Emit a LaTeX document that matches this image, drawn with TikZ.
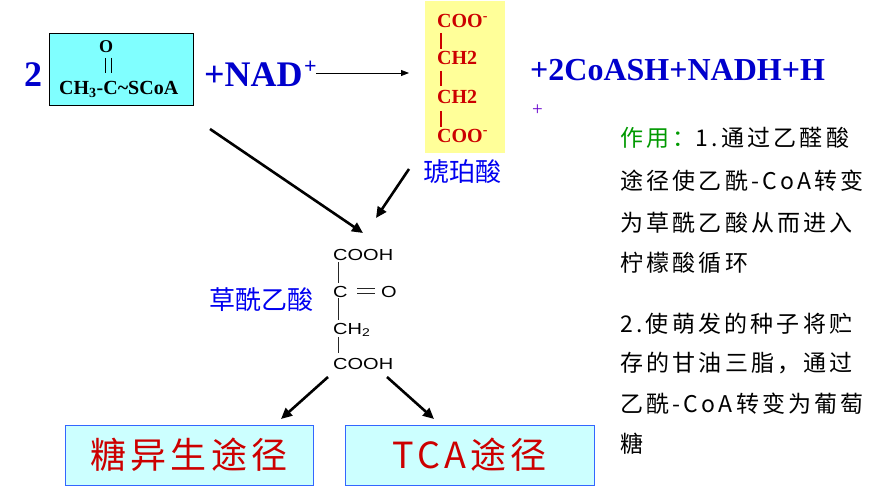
\documentclass[tikz,border=0pt]{standalone}
\usepackage{fontspec}
\setmainfont{Liberation Serif}
\newfontfamily\cjk{Noto Sans CJK SC}
\newfontfamily\cjkr{Noto Sans CJK SC}[LetterSpace=14]
\newfontfamily\cjkb{Noto Sans CJK SC}[LetterSpace=12]
\newfontfamily\hel{Liberation Sans}[FakeStretch=1.25]
\usetikzlibrary{arrows.meta}
\definecolor{tblue}{HTML}{0000CC}
\definecolor{cblue}{HTML}{0000F0}
\definecolor{tpurple}{HTML}{6600CC}
\definecolor{tred}{HTML}{CC0000}
\definecolor{tgreen}{HTML}{009900}
\definecolor{acyan}{HTML}{80FFFF}
\definecolor{lcyan}{HTML}{CCFFFF}
\definecolor{bblue}{HTML}{3366FF}
\definecolor{ayellow}{HTML}{FFFF99}
\begin{document}
\begin{tikzpicture}[x=1pt,y=-1pt,
  txt/.style={inner sep=0pt, anchor=base west},
  bigb/.style={txt, text=tblue, font=\fontsize{36}{36}\selectfont\bfseries},
  midb/.style={txt, text=tblue, font=\fontsize{32}{32}\selectfont\bfseries},
  acoatxt/.style={txt, font=\fontsize{20}{20}\selectfont\bfseries},
  succtxt/.style={txt, text=tred, font=\fontsize{20}{20}\selectfont\bfseries},
  bar/.style={draw=tred, line width=1.8pt},
  chem/.style={txt, font=\fontsize{16}{16}\hel},
  bond/.style={draw=black!85, line width=1pt},
  cname/.style={inner sep=0pt, text=cblue, font=\fontsize{26}{26}\cjk},
  note/.style={txt, font=\fontsize{23}{23}\cjkr},
  bigarrow/.style={line width=2.6pt, -{Triangle[length=11pt,width=10pt]}},
  thinarrow/.style={line width=0.8pt, -{Triangle[length=8pt,width=6pt]}},
  pathbox/.style={draw=bblue, line width=1pt, fill=lcyan, inner sep=0pt,
     minimum height=60pt, text=tred, font=\fontsize{36}{36}\cjkb}
]
\useasboundingbox (0,0) rectangle (878,487);

% acetyl-CoA
\node[bigb] (two) at (24,86) {2};
\node[draw, line width=1pt, fill=acyan, anchor=north west, inner sep=0pt,
      minimum width=144pt, minimum height=72pt] (acoa) at (49,33) {};
\node[acoatxt, anchor=base, font=\fontsize{18}{18}\selectfont\bfseries] (oxy) at (106,53) {O};
\coordinate (d1a) at (105.5,58); \coordinate (d1b) at (105.5,73);
\coordinate (d2a) at (111,58);   \coordinate (d2b) at (111,73);
\draw[line width=1pt] (d1a) -- (d1b) (d2a) -- (d2b);
\node[acoatxt] (form) at (59,94) {CH\textsubscript{3}-C\textasciitilde SCoA};

\node[bigb] (nad) at (204,86) {+NAD};
\node[txt, text=tblue, font=\fontsize{22}{22}\selectfont\bfseries] (nadp) at (304,74) {+};
\coordinate (a0s) at (316,73);
\coordinate (a0e) at (409,73);
\draw[thinarrow] (a0s) -- (a0e);

% succinate
\node[fill=ayellow, anchor=north west, inner sep=0pt,
      minimum width=80pt, minimum height=152pt] (succ) at (425,1) {};
\node[succtxt] (s1) at (437,28) {COO\textsuperscript{-}};
\node[succtxt] (s2) at (437,65) {CH2};
\node[succtxt] (s3) at (437,103) {CH2};
\node[succtxt] (s4) at (437,142) {COO\textsuperscript{-}};
\coordinate (b1a) at (441,33);  \coordinate (b1b) at (441,49);
\coordinate (b2a) at (441,71);  \coordinate (b2b) at (441,86);
\coordinate (b3a) at (441,111); \coordinate (b3b) at (441,127);
\draw[bar] (b1a) -- (b1b) (b2a) -- (b2b) (b3a) -- (b3b);
\node[cname] (succname) at (462,172) {琥珀酸};

\node[midb] (prod) at (530,81) {+2CoASH+NADH+H};
\node[txt, text=tpurple, font=\fontsize{19}{19}\selectfont] (hplus) at (532,115) {+};

% oxaloacetate
\node[cname] (oaaname) at (261,300) {草酰乙酸};
\node[chem] (c1) at (333,260) {COOH};
\node[chem] (c2) at (333,297) {C};
\node[chem] (c2o) at (381,297) {O};
\node[chem] (c3) at (333,334) {CH\textsubscript{2}};
\node[chem] (c4) at (333,369) {COOH};
\coordinate (e1a) at (357,288); \coordinate (e1b) at (375,288);
\coordinate (e2a) at (357,293); \coordinate (e2b) at (375,293);
\draw[bond] (e1a) -- (e1b) (e2a) -- (e2b);
\coordinate (v1a) at (338.5,262); \coordinate (v1b) at (338.5,283);
\coordinate (v2a) at (338.5,298); \coordinate (v2b) at (338.5,320);
\coordinate (v3a) at (338.5,337); \coordinate (v3b) at (338.5,353);
\draw[bond] (v1a) -- (v1b) (v2a) -- (v2b) (v3a) -- (v3b);

% big arrows
\coordinate (p1s) at (210,129); \coordinate (p1e) at (363,233);
\coordinate (p2s) at (409,169); \coordinate (p2e) at (376,218);
\coordinate (p3s) at (328,377); \coordinate (p3e) at (281,419);
\coordinate (p4s) at (387,377); \coordinate (p4e) at (434,419);
\draw[bigarrow] (p1s) -- (p1e);
\draw[bigarrow] (p2s) -- (p2e);
\draw[bigarrow] (p3s) -- (p3e);
\draw[bigarrow] (p4s) -- (p4e);

% bottom boxes
\node[pathbox, minimum width=248pt] (gng) at (189,455) {糖异生途径};
\node[pathbox, minimum width=249pt] (tca) at (469.5,455) {TCA途径};

% notes
\node[note] (n1) at (620,146) {{\color{tgreen}作用：}1.通过乙醛酸};
\node[note] (n2) at (620,189) {途径使乙酰-CoA转变};
\node[note] (n3) at (620,231) {为草酰乙酸从而进入};
\node[note] (n4) at (620,271) {柠檬酸循环};
\node[note] (n5) at (620,332) {2.使萌发的种子将贮};
\node[note] (n6) at (620,371) {存的甘油三脂，通过};
\node[note] (n7) at (620,412) {乙酰-CoA转变为葡萄};
\node[note] (n8) at (620,452) {糖};
\end{tikzpicture}
\end{document}
